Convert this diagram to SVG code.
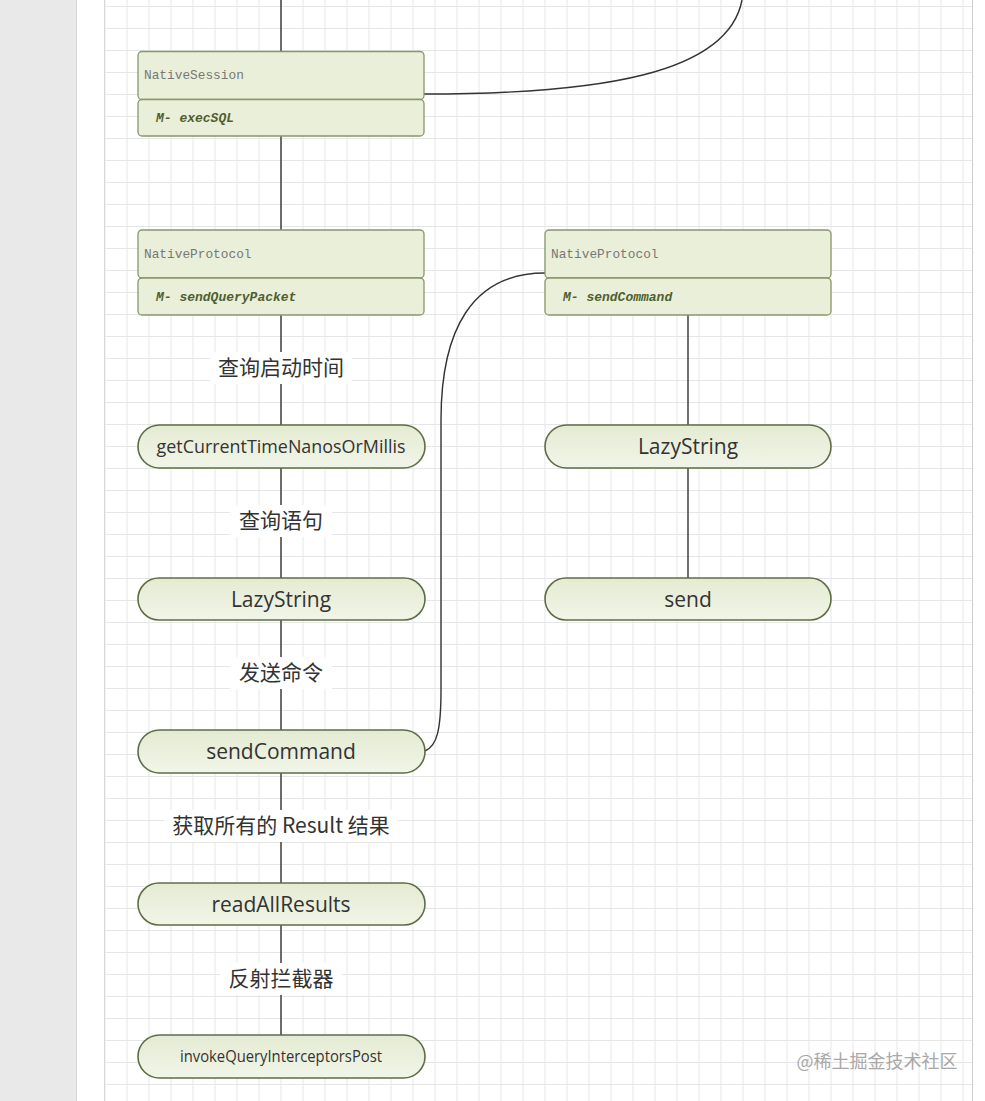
<svg xmlns="http://www.w3.org/2000/svg" width="985" height="1101" viewBox="0 0 985 1101">
<defs>
<pattern id="grid" x="104.5" y="6" width="22" height="22" patternUnits="userSpaceOnUse">
<path d="M0 0.5 H22 M0.5 0 V22" fill="none" stroke="#e6e6e6" stroke-width="1"/>
</pattern>
<linearGradient id="pill" x1="0" y1="0" x2="0" y2="1">
<stop offset="0" stop-color="#e4ebd2"/>
<stop offset="1" stop-color="#f1f5e8"/>
</linearGradient>
</defs>
<style>
.box{fill:#e9efd9;stroke:#87976a;stroke-width:1.3}
.pill{fill:url(#pill);stroke:#5e6d44;stroke-width:1.6}
.hdr{font-family:"Liberation Mono",monospace;font-size:12.8px;fill:#777}
.mth{font-family:"Liberation Mono",monospace;font-size:13px;font-weight:bold;font-style:italic;fill:#4f5f2f}
.pt{font-family:"Open Sans","Noto Sans",sans-serif;font-size:21px;fill:#333;text-anchor:middle}
.lbl{font-family:"Noto Sans CJK SC","Noto Sans",sans-serif;font-size:21px;fill:#333;text-anchor:middle}
.lbg{fill:#fff}
.edge{fill:none;stroke:#333;stroke-width:1.4}
</style>
<rect x="0" y="0" width="985" height="1101" fill="#fff"/>
<rect x="0" y="0" width="76" height="1101" fill="#e9e9e9"/>
<line x1="76.5" y1="0" x2="76.5" y2="1101" stroke="#d6d6d6"/>
<rect x="104.5" y="0" width="868" height="1101" fill="url(#grid)"/>
<line x1="104.5" y1="0" x2="104.5" y2="1101" stroke="#d8d8d8"/>
<line x1="972.5" y1="0" x2="972.5" y2="1101" stroke="#cfcfcf"/>

<g id="connectors">
<path class="edge" d="M281 0 V51"/>
<path class="edge" d="M281 136 V230"/>
<path class="edge" d="M281 315 V425"/>
<path class="edge" d="M281 468 V578"/>
<path class="edge" d="M281 620 V730"/>
<path class="edge" d="M281 773 V883"/>
<path class="edge" d="M281 925 V1035"/>
<path class="edge" d="M688 315 V425"/>
<path class="edge" d="M688 468 V578"/>
<path class="edge" d="M424 94 C600 94 728 74 742 0"/>
<path class="edge" d="M425 751 C437 746 441 730 441 690 L441 420 C441 330 472 273 545 273"/>
</g>

<g id="label-1"><rect class="lbg" x="210" y="352" width="142" height="32"/><text class="lbl" x="281" y="375">查询启动时间</text></g>
<g id="label-2"><rect class="lbg" x="230" y="505" width="102" height="32"/><text class="lbl" x="281" y="528">查询语句</text></g>
<g id="label-3"><rect class="lbg" x="230" y="657" width="102" height="32"/><text class="lbl" x="281" y="680">发送命令</text></g>
<g id="label-4"><rect class="lbg" x="164" y="810" width="234" height="32"/><text class="lbl" x="281" y="833">获取所有的 Result 结果</text></g>
<g id="label-5"><rect class="lbg" x="220" y="963" width="122" height="32"/><text class="lbl" x="281" y="986">反射拦截器</text></g>

<g id="node-nativesession">
<rect class="box" x="138" y="51.5" width="286" height="48" rx="4"/>
<rect class="box" x="138" y="99.5" width="286" height="36.5" rx="4"/>
<text class="hdr" x="144" y="79">NativeSession</text>
<text class="mth" x="156" y="122">M- execSQL</text>
</g>

<g id="node-nativeprotocol-left">
<rect class="box" x="138" y="230" width="286" height="48" rx="4"/>
<rect class="box" x="138" y="278" width="286" height="37" rx="4"/>
<text class="hdr" x="144" y="258">NativeProtocol</text>
<text class="mth" x="156" y="301">M- sendQueryPacket</text>
</g>

<g id="node-nativeprotocol-right">
<rect class="box" x="545" y="230" width="286" height="48" rx="4"/>
<rect class="box" x="545" y="278" width="286" height="37" rx="4"/>
<text class="hdr" x="551" y="258">NativeProtocol</text>
<text class="mth" x="563" y="301">M- sendCommand</text>
</g>

<g id="node-getcurrenttime">
<rect class="pill" x="138" y="425" width="287" height="43" rx="21.5"/>
<text class="pt" x="281" y="452.5" style="font-size:18px" textLength="249" lengthAdjust="spacingAndGlyphs">getCurrentTimeNanosOrMillis</text>
</g>
<g id="node-lazystring-left">
<rect class="pill" x="138" y="578" width="287" height="42" rx="21"/>
<text class="pt" x="281" y="606.5">LazyString</text>
</g>
<g id="node-sendcommand">
<rect class="pill" x="138" y="730" width="287" height="43" rx="21.5"/>
<text class="pt" x="281" y="758.5">sendCommand</text>
</g>
<g id="node-readallresults">
<rect class="pill" x="138" y="883" width="287" height="42" rx="21"/>
<text class="pt" x="281" y="911.5">readAllResults</text>
</g>
<g id="node-invokequeryinterceptorspost">
<rect class="pill" x="138" y="1035" width="287" height="43" rx="21.5"/>
<text class="pt" x="281" y="1062" style="font-size:16px" textLength="202" lengthAdjust="spacingAndGlyphs">invokeQueryInterceptorsPost</text>
</g>
<g id="node-lazystring-right">
<rect class="pill" x="545" y="425" width="286" height="43" rx="21.5"/>
<text class="pt" x="688" y="453.5">LazyString</text>
</g>
<g id="node-send">
<rect class="pill" x="545" y="578" width="286" height="42" rx="21"/>
<text class="pt" x="688" y="606.5">send</text>
</g>

<text x="877" y="1068" style="font-family:'Noto Sans CJK SC',sans-serif;font-size:18px;fill:#a8a8a8;text-anchor:middle">@稀土掘金技术社区</text>
</svg>
